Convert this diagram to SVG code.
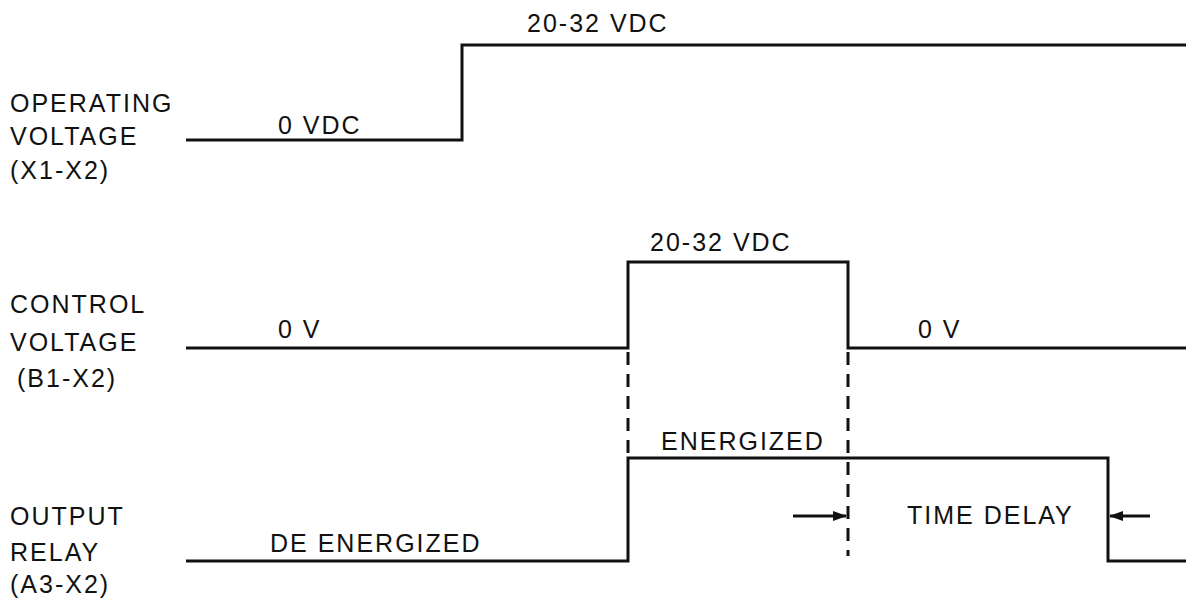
<svg xmlns="http://www.w3.org/2000/svg" width="1196" height="602" viewBox="0 0 1196 602">
<style>
text{font-family:"Liberation Sans",Arial,sans-serif;font-size:25px;fill:#111;letter-spacing:2px}
.w{fill:none;stroke:#111;stroke-width:3;stroke-linejoin:miter}
.d{fill:none;stroke:#111;stroke-width:3;stroke-dasharray:13,9}
.a{fill:none;stroke:#111;stroke-width:3}
</style>
<defs>
<marker id="ah" markerWidth="14" markerHeight="10" refX="13" refY="5" orient="auto" markerUnits="userSpaceOnUse" viewBox="0 0 14 10">
<path d="M0,0 L14,5 L0,10 Z" fill="#111"/>
</marker>
</defs>
<rect width="1196" height="602" fill="#fff"/>
<g id="operating">
<text x="10" y="112">OPERATING</text>
<text x="10" y="145">VOLTAGE</text>
<text x="10" y="179">(X1-X2)</text>
<text x="278" y="134">0 VDC</text>
<text x="527" y="32">20-32 VDC</text>
</g>
<g id="control">
<text x="10" y="313">CONTROL</text>
<text x="10" y="351">VOLTAGE</text>
<text x="17" y="387">(B1-X2)</text>
<text x="278" y="338">0 V</text>
<text x="650" y="251">20-32 VDC</text>
<text x="918" y="338">0 V</text>
</g>
<g id="output">
<text x="10" y="525">OUTPUT</text>
<text x="10" y="561">RELAY</text>
<text x="10" y="593">(A3-X2)</text>
<text x="270" y="552">DE ENERGIZED</text>
<text x="661" y="450">ENERGIZED</text>
<text x="907" y="524">TIME DELAY</text>
</g>
<g id="connectors">
<path class="w" d="M186,140 H462 V45 H1186"/>
<path class="w" d="M186,348 H628 V262 H848 V348 H1186"/>
<path class="w" d="M186,561 H628 V458 H1108 V561 H1186"/>
<path class="d" d="M628,352 V458"/>
<path class="d" d="M848,352 V556"/>
<path class="a" d="M793,516 H846" marker-end="url(#ah)"/>
<path class="a" d="M1150,516 H1110" marker-end="url(#ah)"/>
</g>
</svg>
